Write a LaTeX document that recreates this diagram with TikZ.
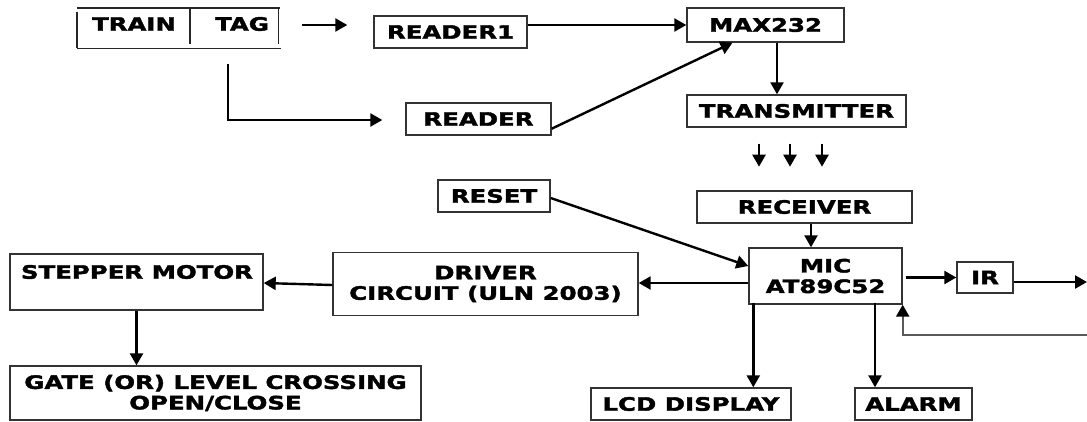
\documentclass[tikz,border=0pt]{standalone}
\usepackage{fontspec}
\usetikzlibrary{arrows.meta,calc}
\newfontfamily\lbl[FakeStretch=1.32,FakeBold=2]{DejaVu Sans Bold}
\begin{document}
\begin{tikzpicture}[x=1pt,y=-1pt,
  box/.style={draw=black!80,line width=1.4pt,inner sep=0pt,
    font=\lbl\fontsize{18.5}{20.5}\selectfont,align=center},
  txt/.style={inner sep=0pt,font=\lbl\fontsize{18.5}{20.5}\selectfont,align=center},
  arr/.style={line width=2.4pt,-{Triangle[length=12pt,width=13pt,color=black]}},
  edge/.style={draw=black!85,line width=1.4pt}]
\useasboundingbox (0,0) rectangle (1087,421);

% TRAIN | TAG block
\node[inner sep=0pt,minimum width=203pt,minimum height=40pt] (tag) at (178.5,28) {};
\node[txt] (train) at (134,24) {TRAIN};
\node[txt] (tagtxt) at (242,24) {TAG};
\draw[edge] (tag.north west) -- (tag.north east);
\draw[edge] (tag.south west) -- ($(tag.south east)+(1,0)$);
\draw[edge] ($(tag.north west)+(0,4)$) -- (tag.south west);
\draw[edge] ($(tag.north west)+(113,0)$) -- ($(tag.north west)+(113,36)$);
\draw[edge] ($(tag.north east)+(-2,0)$) -- ($(tag.north east)+(-2,36)$);

% blocks
\node[box,minimum width=153pt,minimum height=32pt] (reader1) at (450.5,32) {READER1};
\node[box,minimum width=157pt,minimum height=34pt] (max232) at (765.5,25) {MAX232};
\node[box,minimum width=145pt,minimum height=32pt] (reader) at (478.5,119) {READER};
\node[box,minimum width=219pt,minimum height=32pt] (transmitter) at (796.5,111) {TRANSMITTER};
\node[box,minimum width=215pt,minimum height=32pt] (receiver) at (804.5,207) {RECEIVER};
\node[box,minimum width=112pt,minimum height=32pt] (reset) at (494,196) {RESET};
\node[box,minimum width=153pt,minimum height=56pt] (mic) at (825.5,276) {MIC\\AT89C52};
\node[box,minimum width=305pt,minimum height=63pt] (driver) at (485.5,284) {DRIVER\\CIRCUIT (ULN 2003)};
\node[box,minimum width=253pt,minimum height=56pt] (stepper) at (136.5,282) {};
\node[txt] (steppertxt) at (137,272) {STEPPER MOTOR};
\node[box,minimum width=411pt,minimum height=54pt] (gate) at (215.5,393) {GATE (OR) LEVEL CROSSING\\OPEN/CLOSE};
\node[box,minimum width=200pt,minimum height=32pt] (lcd) at (691,404) {LCD DISPLAY};
\node[box,minimum width=117pt,minimum height=32pt] (alarm) at (913.5,404) {ALARM};
\node[box,minimum width=56pt,minimum height=31pt] (ir) at (985,277.5) {IR};

% connectors
\draw[arr] ($(tag.east)+(22,-3)$) -- ($(reader1.west)+(-26,-7)$);
\draw[arr] ($(tag.south west)+(151,16)$) |- ($(reader.west)+(-23,1)$);
\draw[arr] (reader1.east |- max232.west) -- (max232.west);
\draw[arr] ($(reader.south east)+(0,-7)$) -- ($(max232.south)+(-33,0)$);
\coordinate (m1) at ($(max232.south)+(11.5,0)$);
\draw[arr] (m1) -- (m1 |- transmitter.north);
\foreach \dx in {-37.5,-6.5,25.5}
  \draw[arr] ($(transmitter.south)+(\dx,16)$) -- ++(0,23);
\draw[arr] ($(receiver.south)+(6.5,0)$) -- ($(mic.north)+(-14.5,0)$);
\draw[arr] ($(reset.east)+(0,2)$) -- ($(mic.west)+(0,-10)$);
\coordinate (d1) at ($(mic.west)+(0,7)$);
\draw[arr] (d1) -- (d1 -| driver.east);
\draw[arr] ($(driver.west)+(0,1)$) -- ($(stepper.east)+(0,1)$);
\draw[arr] (stepper.south) -- (stepper.south |- gate.north);
\coordinate (l1) at ($(mic.south west)+(5,-2)$);
\draw[arr] (l1) -- (l1 |- lcd.north);
\coordinate (a1) at ($(mic.south)+(49.5,-2)$);
\draw[arr] (a1) -- (a1 |- alarm.north);
\draw[arr] ($(mic.east |- ir.west)+(3,0)$) -- (ir.west);
\coordinate (irout) at (1087,282);
\draw[arr] (ir.east |- irout) -- (irout);
\coordinate (fb) at (1087,335);
\draw[arr,draw=black!65] (fb) -| (mic.south east);
\end{tikzpicture}
\end{document}
